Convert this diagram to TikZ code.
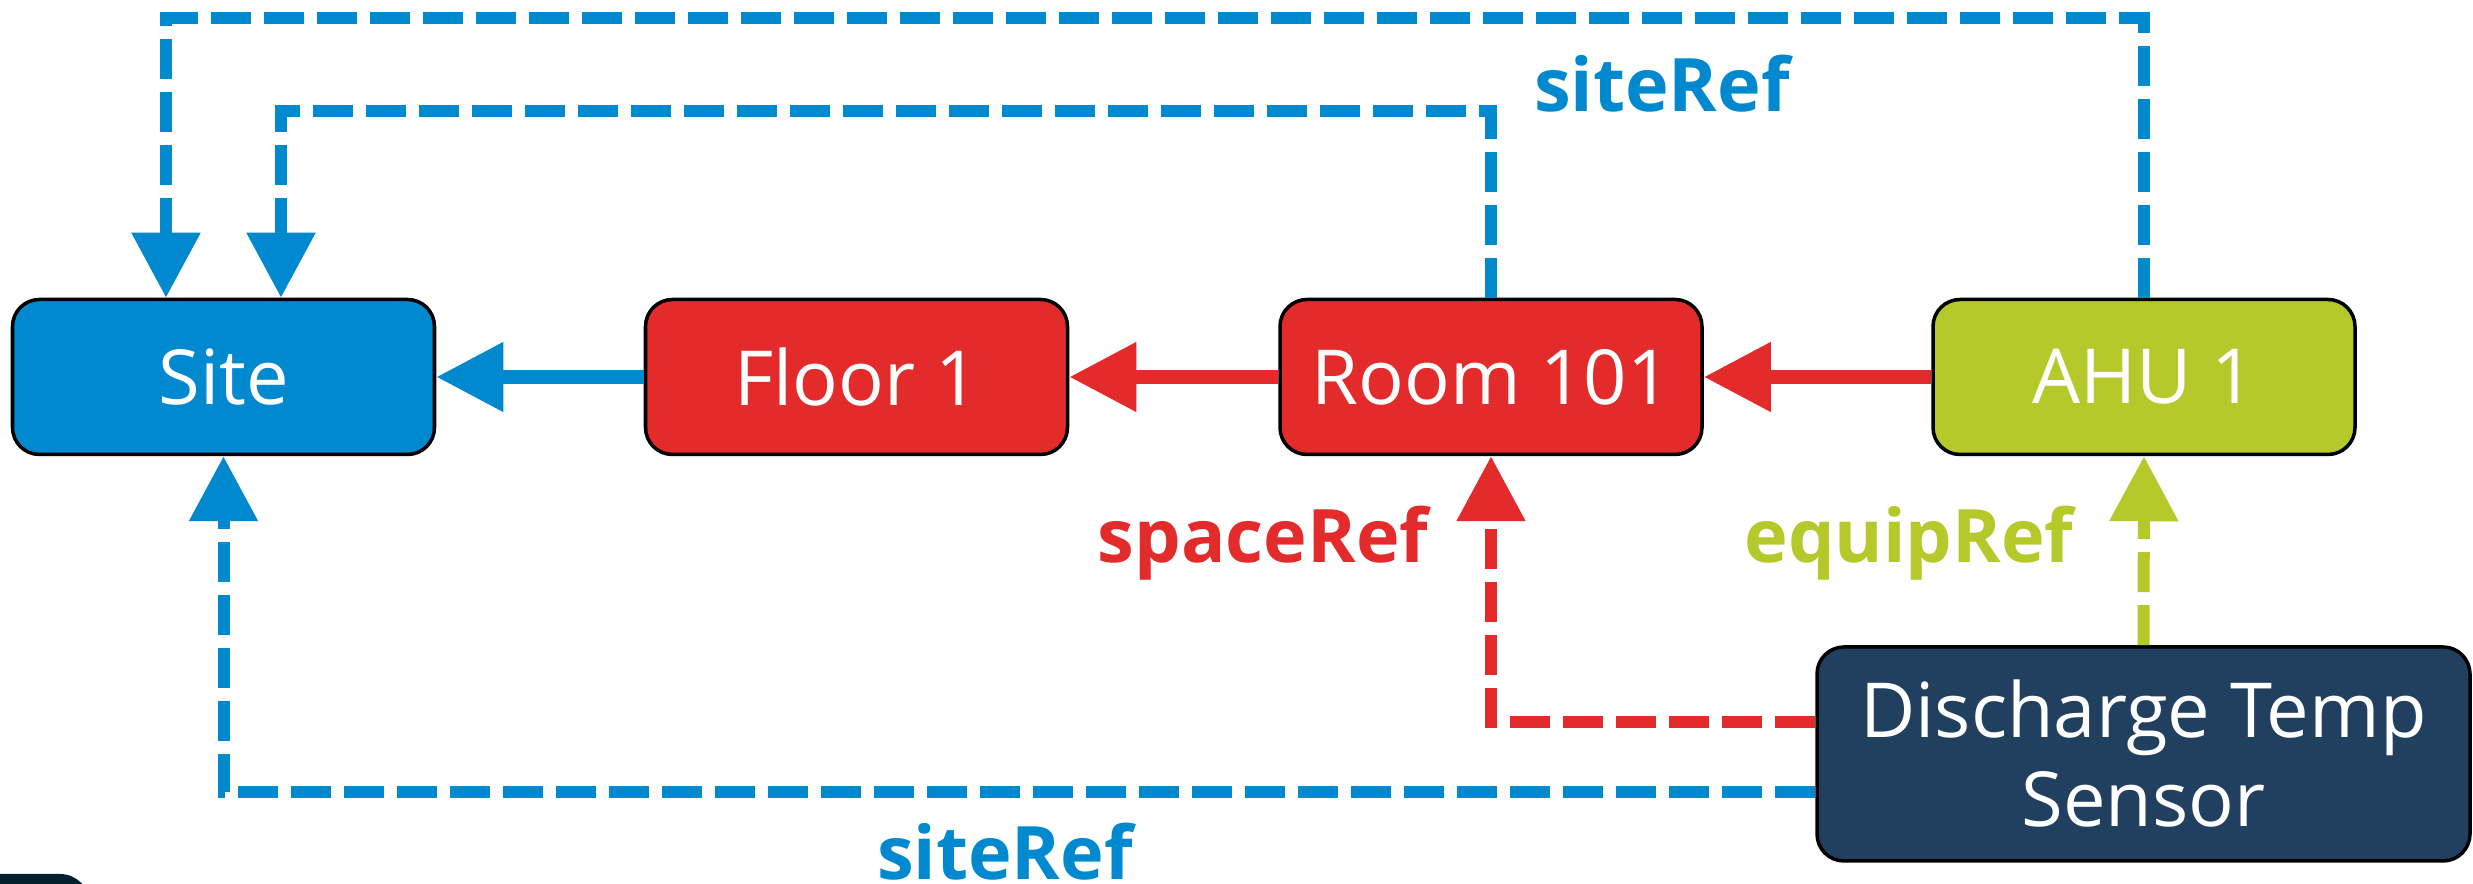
\documentclass[tikz,border=0pt]{standalone}
\usepackage{fontspec}
\setmainfont{Open Sans}
\usetikzlibrary{arrows.meta,positioning}
\definecolor{siteblue}{RGB}{0,137,207}
\definecolor{spacered}{RGB}{227,43,43}
\definecolor{equipgreen}{RGB}{181,201,42}
\definecolor{pointnavy}{RGB}{33,63,94}
\definecolor{shadenavy}{RGB}{6,31,46}
\tikzset{%
  entity/.style={draw=black, line width=1pt, rounded corners=0.27cm,
    minimum width=4.22cm, minimum height=1.55cm, text=white, align=center,
    font=\fontsize{21.6}{25.3}\selectfont},% record box
  sitebox/.style={entity, fill=siteblue},
  spacebox/.style={entity, fill=spacered},
  equipbox/.style={entity, fill=equipgreen},
  pointbox/.style={entity, fill=pointnavy, minimum width=6.53cm, minimum height=2.14cm},
  contains/.style={line width=0.14cm, -{Triangle[length=0.67cm, width=0.66cm]}},% solid hierarchy arrow
  refline/.style={line width=0.12cm, dash pattern=on 0.4cm off 0.13cm,
    -{Triangle[length=0.65cm, width=0.66cm]}},% dashed ref arrow
  reflabel/.style={anchor=base, font=\bfseries\fontsize{21}{25}\selectfont}
}
\begin{document}
\begin{tikzpicture}
\useasboundingbox (0,0) rectangle (24.73,8.84);
\begin{scope}
  \clip (0,0) rectangle (24.73,8.84);
  \fill[shadenavy, rounded corners=0.3cm] (-1,0.10) rectangle (0.9,-1);
\end{scope}

\node[sitebox] (site) at (2.235, 5.07) {Site};
\node[spacebox] (floor) at (8.565, 5.07) {Floor 1};
\node[spacebox] (room) at (14.91, 5.07) {Room 101};
\node[equipbox] (ahu) at (21.44, 5.07) {AHU 1};
\node[pointbox] (sensor) at (21.435, 1.30) {Discharge Temp\\Sensor};

\draw[contains, siteblue] (floor) -- (site);
\draw[contains, spacered] (room) -- (floor);
\draw[contains, spacered] (ahu) -- (room);

\coordinate (outer) at (1.66, 8.66);
\coordinate (inner) at (2.81, 7.73);
\draw[refline, siteblue] (ahu.north) |- (outer) -- (outer |- site.north);
\draw[refline, siteblue] (room.north) |- (inner) -- (inner |- site.north);
\draw[refline, spacered] ([yshift=0.32cm]sensor.west) -| (room.south);
\draw[refline, equipgreen] (sensor.north) -- (ahu.south);
\draw[refline, siteblue] ([yshift=-0.38cm]sensor.west) -| (site.south);

\node[reflabel, text=siteblue] (toplabel) at (16.62, 7.72) {siteRef};
\node[reflabel, text=spacered] (spacelabel) at (12.63, 3.21) {spaceRef};
\node[reflabel, text=equipgreen] (equiplabel) at (19.09, 3.21) {equipRef};
\node[reflabel, text=siteblue] (bottomlabel) at (10.05, 0.04) {siteRef};
\end{tikzpicture}
\end{document}
